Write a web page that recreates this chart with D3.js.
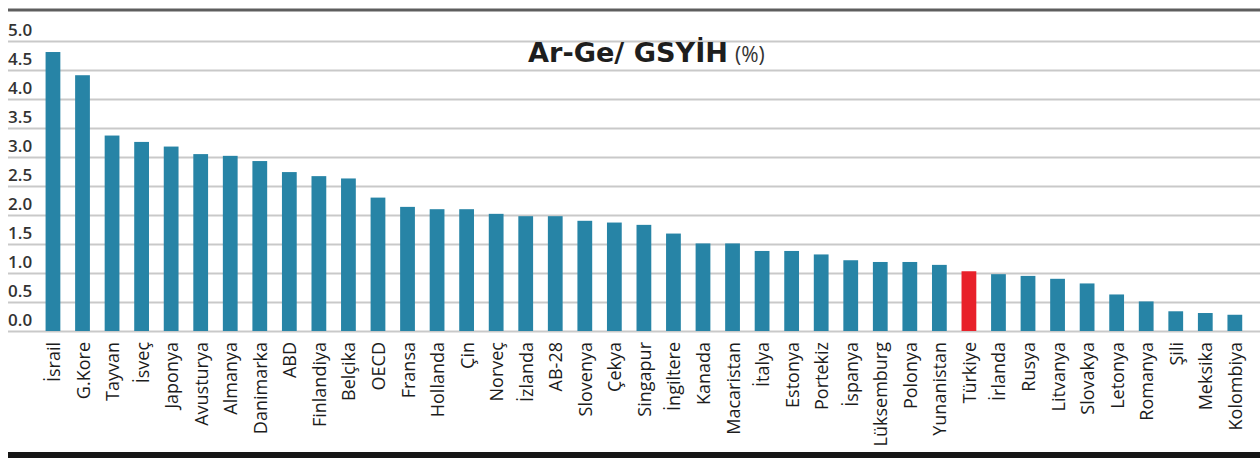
<!DOCTYPE html>
<html>
<head>
<meta charset="utf-8">
<script src="https://cdn.jsdelivr.net/npm/d3@7"></script>
<style>
  body { margin: 0; background: #fff; }
  svg { display: block; }
</style>
</head>
<body>
<div id="chart"></div>
<script>
// Ar-Ge harcamalarının GSYİH'ye oranı (%)
const countries = ["İsrail", "G.Kore", "Tayvan", "İsveç", "Japonya", "Avusturya", "Almanya", "Danimarka",
  "ABD", "Finlandiya", "Belçika", "OECD", "Fransa", "Hollanda", "Çin", "Norveç", "İzlanda", "AB-28",
  "Slovenya", "Çekya", "Singapur", "İngiltere", "Kanada", "Macaristan", "İtalya", "Estonya", "Portekiz",
  "İspanya", "Lüksemburg", "Polonya", "Yunanistan", "Türkiye", "İrlanda", "Rusya", "Litvanya",
  "Slovakya", "Letonya", "Romanya", "Şili", "Meksika", "Kolombiya"];
const values = [4.81, 4.41, 3.37, 3.26, 3.18, 3.05, 3.02, 2.93,
  2.74, 2.67, 2.63, 2.30, 2.14, 2.10, 2.10, 2.02, 1.98, 1.98,
  1.90, 1.87, 1.83, 1.68, 1.51, 1.51, 1.38, 1.38, 1.32,
  1.22, 1.19, 1.19, 1.14, 1.03, 0.98, 0.95, 0.90,
  0.82, 0.63, 0.51, 0.34, 0.31, 0.28];
const yTicks = [0, 0.5, 1, 1.5, 2, 2.5, 3, 3.5, 4, 4.5, 5];
const highlight = "Türkiye";

const W = 1260, H = 458;
const barColor = "#2784a6",
  redColor = "#e8212a",
  gridColor = "#c9c9c9",
  textColor = "#333";

const svg = d3.select("#chart").append("svg")
  .attr("width", W).attr("height", H)
  .style("font-family", "'Open Sans', sans-serif");

const x = d3.scaleBand()
  .domain(countries)
  .range([30.8, 1257])
  .padding(0.5);

const y = d3.scaleLinear()
  .domain([0, 5])
  .range([331, 41]);

// top rule
svg.append("line")
  .attr("x1", 8).attr("x2", W)
  .attr("y1", 10).attr("y2", 10)
  .attr("stroke", "#5e5e5e")
  .attr("stroke-width", 3);

// grid + tick labels
const yAxis = svg.append("g")
  .attr("transform", "translate(8,0)")
  .call(d3.axisRight(y)
    .tickValues(yTicks)
    .tickSize(W - 8)
    .tickFormat(d3.format(".1f")));
yAxis.select(".domain").remove();
yAxis.selectAll(".tick line")
  .attr("stroke", gridColor)
  .attr("stroke-width", 2);
yAxis.selectAll(".tick text")
  .attr("x", 0)
  .attr("dy", -6)
  .attr("text-anchor", "start")
  .attr("fill", textColor)
  .style("font-family", "'Open Sans', sans-serif")
  .style("font-size", "17px")
  .style("font-weight", 600);

// bars
svg.append("g").selectAll("rect")
  .data(countries)
  .join("rect")
  .attr("x", d => x(d))
  .attr("width", x.bandwidth())
  .attr("y", (d, i) => y(values[i]))
  .attr("height", (d, i) => y(0) - y(values[i]))
  .attr("fill", d => d === highlight ? redColor : barColor);

// category labels
svg.append("g").selectAll("text")
  .data(countries)
  .join("text")
  .attr("transform", d => "translate(" + (x(d) + x.bandwidth() / 2) + ",342) rotate(-90)")
  .attr("text-anchor", "end")
  .attr("dominant-baseline", "central")
  .attr("fill", "#1c1c1c")
  .style("font-size", "18px")
  .text(d => d);

// title
const title = svg.append("text")
  .attr("x", 528)
  .attr("y", 62)
  .attr("fill", "#1e1e1e");
title.append("tspan")
  .style("font-family", "'DejaVu Sans', sans-serif")
  .style("font-size", "26px")
  .style("font-weight", 700)
  .attr("textLength", 200)
  .attr("lengthAdjust", "spacingAndGlyphs")
  .text("Ar-Ge/ GSYİH");
title.append("tspan")
  .attr("x", 735)
  .style("font-size", "21px")
  .style("font-weight", 400)
  .attr("fill", "#333")
  .text("(%)");

// bottom band
svg.append("rect")
  .attr("x", 8).attr("y", 452)
  .attr("width", W - 8).attr("height", 6)
  .attr("fill", "#161616");
</script>
</body>
</html>
